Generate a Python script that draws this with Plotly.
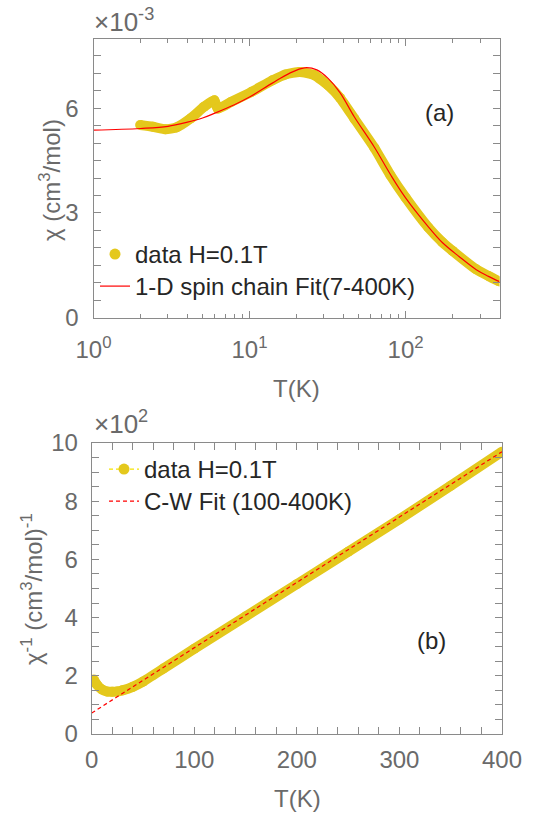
import numpy as np
import plotly.graph_objects as go

# ---------------- data ----------------
# panel (a): chi vs T (chi in units of 1e-3 cm^3/mol)
T_a = [1.99, 2.4, 2.9, 3.4, 4.2, 5.1, 5.95, 6.25, 7.6, 10.3, 14, 17, 21, 26, 32, 38,
       47, 63, 80, 100, 140, 172, 200, 284, 340, 400]
chi_a = [5.52, 5.47, 5.40, 5.45, 5.71, 6.04, 6.23, 5.99, 6.18, 6.47, 6.80, 6.97, 7.04, 6.95,
         6.65, 6.30, 5.70, 4.87, 4.08, 3.44, 2.58, 2.16, 1.91, 1.38, 1.19, 1.03]

T_fit_a = [1, 2, 3, 4, 5, 6, 8, 10, 14, 18, 22.5, 27, 32, 38, 47, 63, 80, 99, 140, 172,
           220, 284, 340, 400]
chi_fit_a = [5.37, 5.42, 5.48, 5.60, 5.72, 5.86, 6.10, 6.32, 6.72, 7.00, 7.16, 7.10, 6.85,
             6.45, 5.75, 4.89, 4.10, 3.46, 2.60, 2.15, 1.75, 1.37, 1.18, 1.03]

# panel (b): 1/chi vs T (mol/cm^3)
T_b = [2, 5, 10, 15, 20, 25, 30, 40, 50, 70, 100, 150, 200, 250, 300, 350, 400]
inv_b = [187, 170, 153, 146, 145, 146, 150, 162, 180, 225, 293, 404, 515, 626, 738, 853, 970]

T_cw = [0, 400]
inv_cw = [72, 970]

x_ticks_a = [1, 10, 100]
x_ticktext_a = ["10<sup>0</sup>", "10<sup>1</sup>", "10<sup>2</sup>"]
y_ticks_a = [0, 3, 6]
x_ticks_b = [0, 100, 200, 300, 400]
y_ticks_b = [0, 200, 400, 600, 800, 1000]
y_ticktext_b = ["0", "2", "4", "6", "8", "10"]

# ---------------- styling ----------------
W, H = 533, 813
YEL = "#E4C81C"
YEL_LEG = "#F5E300"
RED = "#FF0000"
AX = "#8a8a8a"
TXT = "#6a6a6a"
DARK = "#262626"
FONT = "Liberation Sans, Arial, Helvetica, sans-serif"
FS = 24

def px_x(p):
    return p / W

def px_y(p):
    return 1 - p / H

fig = go.Figure()

# panel (a)
fig.add_trace(go.Scatter(x=T_a, y=chi_a, mode="lines+markers",
                         line=dict(color=YEL, width=10, shape="spline", smoothing=0.5),
                         marker=dict(color=YEL, size=10),
                         showlegend=False, xaxis="x", yaxis="y", hoverinfo="skip"))
fig.add_trace(go.Scatter(x=T_fit_a, y=chi_fit_a, mode="lines", line=dict(color=RED, width=1.2, shape="spline"),
                         showlegend=False, xaxis="x", yaxis="y"))
fig.add_trace(go.Scatter(x=[None], y=[None], mode="markers", marker=dict(color=YEL, size=11),
                         name="data H=0.1T", legend="legend", xaxis="x", yaxis="y"))
fig.add_trace(go.Scatter(x=[None], y=[None], mode="lines", line=dict(color=RED, width=1.2),
                         name="1-D spin chain Fit(7-400K)", legend="legend2", xaxis="x", yaxis="y"))

# panel (b)
fig.add_trace(go.Scatter(x=T_b, y=inv_b, mode="lines+markers",
                         line=dict(color=YEL, width=10, shape="spline", smoothing=0.5),
                         marker=dict(color=YEL, size=10),
                         showlegend=False, xaxis="x2", yaxis="y2"))
fig.add_trace(go.Scatter(x=T_cw, y=inv_cw, mode="lines", line=dict(color=RED, width=1.2, dash="4px,3px"),
                         showlegend=False, xaxis="x2", yaxis="y2"))
fig.add_trace(go.Scatter(x=[None], y=[None], mode="lines+markers",
                         line=dict(color=YEL_LEG, width=1.2, dash="4px,3px"), marker=dict(color=YEL, size=11),
                         name="data H=0.1T", legend="legend3", xaxis="x2", yaxis="y2"))
fig.add_trace(go.Scatter(x=[None], y=[None], mode="lines", line=dict(color=RED, width=1.2, dash="4px,3px"),
                         name="C-W Fit (100-400K)", legend="legend4", xaxis="x2", yaxis="y2"))

common = dict(showline=True, linecolor=AX, linewidth=1, mirror="allticks", ticks="inside",
              tickcolor=AX, tickwidth=1, showgrid=False, zeroline=False, automargin=False,
              tickfont=dict(family=FONT, size=FS, color=TXT))

log_minor = [2, 3, 4, 5, 6, 7, 8, 9, 20, 30, 40, 50, 60, 70, 80, 90, 200, 300]

def leg(x, y):
    return dict(x=px_x(x), y=px_y(y), xanchor="left", yanchor="top",
                bgcolor="rgba(0,0,0,0)", borderwidth=0,
                font=dict(family=FONT, size=FS, color=DARK), tracegroupgap=0)

fig.update_layout(
    template="none",
    width=W, height=H, margin=dict(l=0, r=0, t=0, b=0, autoexpand=False),
    paper_bgcolor="white", plot_bgcolor="white",
    font=dict(family=FONT, size=FS, color=TXT),
    xaxis=dict(type="log", range=[0, np.log10(400)], domain=[px_x(93.5), px_x(499.5)], anchor="y",
               tickvals=x_ticks_a, ticktext=x_ticktext_a, ticklen=7, ticklabelstandoff=11,
               minor=dict(tickvals=log_minor, ticks="inside", ticklen=4, tickcolor=AX, showgrid=False),
               **common),
    yaxis=dict(range=[0, 8], domain=[px_y(317.5), px_y(38.5)], anchor="x",
               tickvals=y_ticks_a, ticklen=7, ticklabelstandoff=9,
               minor=dict(tickvals=list(np.arange(0.5, 8, 0.5)), ticks="inside", ticklen=7,
                          tickcolor=AX, showgrid=False),
               **common),
    xaxis2=dict(range=[0, 400], domain=[px_x(91.7), px_x(502)], anchor="y2",
                tickvals=x_ticks_b, ticklen=7, ticklabelstandoff=4,
                minor=dict(tickvals=list(np.arange(20, 400, 20)), ticks="inside", ticklen=7,
                           tickcolor=AX, showgrid=False),
                **common),
    yaxis2=dict(range=[0, 1000], domain=[px_y(734), px_y(443)], anchor="x2",
                tickvals=y_ticks_b, ticktext=y_ticktext_b, ticklen=7, ticklabelstandoff=8,
                minor=dict(tickvals=list(np.arange(50, 1000, 50)), ticks="inside", ticklen=7,
                           tickcolor=AX, showgrid=False),
                **common),
    legend=leg(95, 232),
    legend2=leg(95, 264),
    legend3=leg(104, 447),
    legend4=leg(104, 479),
)

def ann(text, x, y, size=FS, color=TXT, angle=0, xanchor="center", yanchor="middle"):
    fig.add_annotation(text=text, x=px_x(x), y=px_y(y), xref="paper", yref="paper",
                       showarrow=False, textangle=angle, xanchor=xanchor, yanchor=yanchor,
                       font=dict(family=FONT, size=size, color=color))

ann("×10<sup>-3</sup>", 92, 39, size=26, xanchor="left", yanchor="bottom")
ann("×10<sup>2</sup>", 92, 441, size=26, xanchor="left", yanchor="bottom")
ann("χ (cm<sup>3</sup>/mol)", 50, 180, angle=-90)
ann("χ<sup>-1</sup> (cm<sup>3</sup>/mol)<sup>-1</sup>", 32, 589, angle=-90)
ann("T(K)", 296.5, 388)
ann("T(K)", 297, 798)
ann("(a)", 439, 112, color=DARK)
ann("(b)", 431, 640, color=DARK)

fig.write_html("out.html")
